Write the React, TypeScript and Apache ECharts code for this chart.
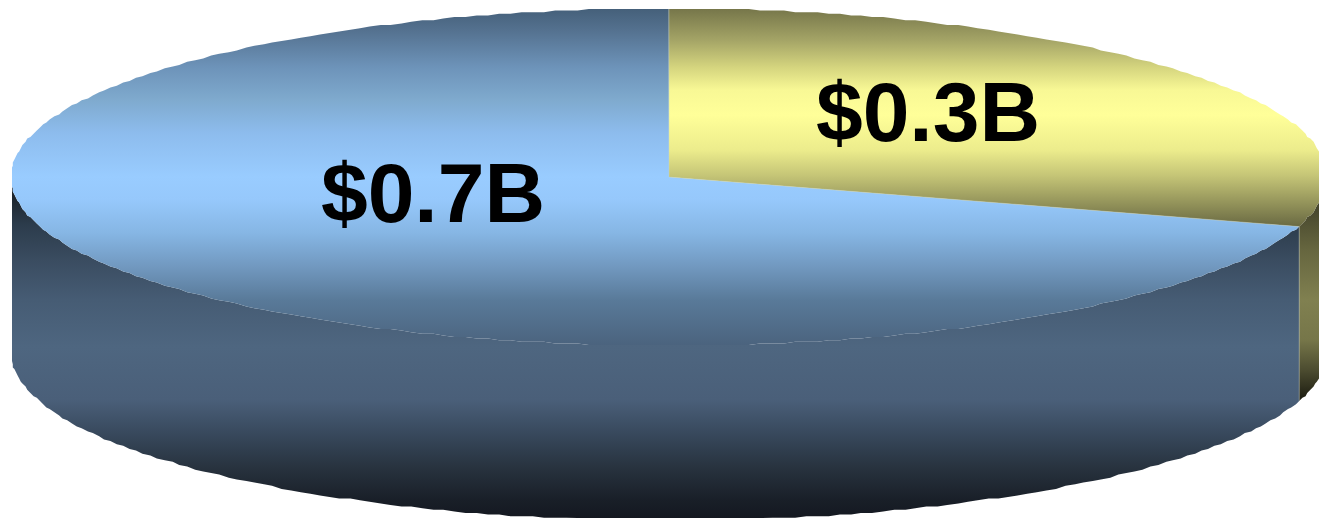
import React, { useEffect, useRef } from "react";
import * as echarts from "echarts";

const categories = ["Blue", "Yellow"];
const sliceValues = [0.703, 0.297];
const sliceLabels = ["$0.7B", "$0.3B"];

const W = 1319, H = 518;
const CX = 669, CY = 177, RX = 658.5, RY = 168.5, DEPTH = 175;
const Q = 1.6;
const STEP = 1;

function pt(deg: number, dy = 0): number[] {
  const t = (deg * Math.PI) / 180;
  const x = CX + RX * Math.sin(t);
  const y = CY - RY * Math.cos(t) + dy;
  const qx = Math.round(x / Q) * Q;
  const qy = Math.round((y - 9) / Q) * Q + 9;
  return [Math.min(W, Math.max(12, qx)), Math.min(H, Math.max(9, qy))];
}
function arc(a: number, b: number, dy = 0): number[][] {
  const out: number[][] = [];
  const dir = b > a ? 1 : -1;
  // vertices always fall on the same angular grid, so top and wall edges coincide
  const first = dir > 0 ? Math.ceil(a / STEP + 1e-6) * STEP : Math.floor(a / STEP - 1e-6) * STEP;
  out.push(pt(a, dy));
  for (let d = first; dir > 0 ? d < b : d > b; d += dir * STEP) out.push(pt(d, dy));
  out.push(pt(b, dy));
  return out;
}
// gradient stops are given as [page y, colour]
const grad = (stops: [number, string][]) => {
  const y0 = stops[0][0];
  const y1 = stops[stops.length - 1][0];
  return new echarts.graphic.LinearGradient(
    0, y0, 0, y1,
    stops.map(([y, color]) => ({ offset: (y - y0) / (y1 - y0), color })),
    true,
  );
};

function splitAngle() {
  const total = sliceValues.reduce((s, v) => s + v, 0);
  return (sliceValues[1] / total) * 360;
}

const renderWall = (params: any) => {
  const a = splitAngle();
  if (params.dataIndex === 0) {
    const top = arc(a, 270);
    const bottom = arc(270, a, DEPTH);
    return {
      type: "polygon",
      shape: { points: [...top, ...bottom] },
      style: {
        fill: grad([
          [177, "#12171c"],
          [190, "#1a2026"],
          [225, "#2c3c4c"],
          [260, "#3a4c60"],
          [300, "#465c74"],
          [347, "#4e6680"],
          [400, "#4a5f79"],
          [433, "#38495d"],
          [467, "#28333f"],
          [500, "#191f28"],
          [518, "#141820"],
        ]),
      },
    };
  }
  const top = arc(90, a);
  const bottom = arc(a, 90, DEPTH);
  return {
    type: "group",
    children: [
      {
        type: "polygon",
        shape: { points: [...top, ...bottom] },
        style: {
          fill: grad([
            [205, "#44442c"],
            [250, "#66663f"],
            [300, "#808050"],
            [340, "#767649"],
            [370, "#4c4c30"],
            [400, "#1b1b10"],
          ]),
        },
      },
      {
        type: "line",
        shape: { x1: pt(a)[0], y1: pt(a)[1], x2: pt(a)[0], y2: pt(a, DEPTH)[1] },
        style: { stroke: "rgba(170,180,170,0.55)", lineWidth: 1 },
      },
    ],
  };
};

const renderTop = (params: any) => {
  const a = splitAngle();
  const centre = [CX, CY];
  const label = sliceLabels[params.dataIndex];
  const font = "bold 84px 'Liberation Sans', Arial, sans-serif";
  if (params.dataIndex === 0) {
    return {
      type: "group",
      children: [
        {
          type: "polygon",
          shape: { points: [centre, ...arc(a, 360)] },
          style: {
            fill: grad([
              [9, "#45607a"],
              [30, "#54718f"],
              [67, "#6d93b9"],
              [100, "#7faace"],
              [133, "#8dbced"],
              [177, "#99ccff"],
              [200, "#96c8fb"],
              [233, "#86b6e4"],
              [267, "#7198bf"],
              [300, "#597a99"],
              [345, "#4b637e"],
            ]),
          },
        },
        {
          type: "text",
          style: { x: 433, y: 193, text: label, fill: "#000", font, align: "center", verticalAlign: "middle" },
        },
      ],
    };
  }
  return {
    type: "group",
    children: [
      {
        type: "polygon",
        shape: { points: [centre, ...arc(0, a)] },
        style: {
          fill: grad([
            [9, "#76764a"],
            [40, "#a4a466"],
            [67, "#d4d47e"],
            [90, "#f8f895"],
            [115, "#ffff99"],
            [150, "#ecec8c"],
            [176, "#c4c476"],
            [225, "#6c6c44"],
          ]),
        },
      },
      {
        type: "polyline",
        shape: { points: [[CX, 9], centre, pt(a)] },
        style: { stroke: "rgba(200,215,200,0.4)", lineWidth: 1, fill: "none" },
      },
      {
        type: "text",
        style: { x: 928, y: 112, text: label, fill: "#000", font, align: "center", verticalAlign: "middle" },
      },
    ],
  };
};

export default function App() {
  const ref = useRef<HTMLDivElement>(null);
  useEffect(() => {
    document.body.style.margin = "0";
    document.body.style.background = "#fff";
    const chart = echarts.init(ref.current!, undefined, { renderer: "svg" });
    const data = categories.map((c, i) => ({ name: c, value: sliceValues[i] }));
    chart.setOption({
      animation: false,
      backgroundColor: "#fff",
      series: [
        { type: "custom", coordinateSystem: "none", renderItem: renderWall, data, silent: true, z: 1 },
        { type: "custom", coordinateSystem: "none", renderItem: renderTop, data, silent: true, z: 2 },
      ],
    });
    return () => chart.dispose();
  }, []);
  return <div ref={ref} style={{ width: W, height: H }} />;
}
